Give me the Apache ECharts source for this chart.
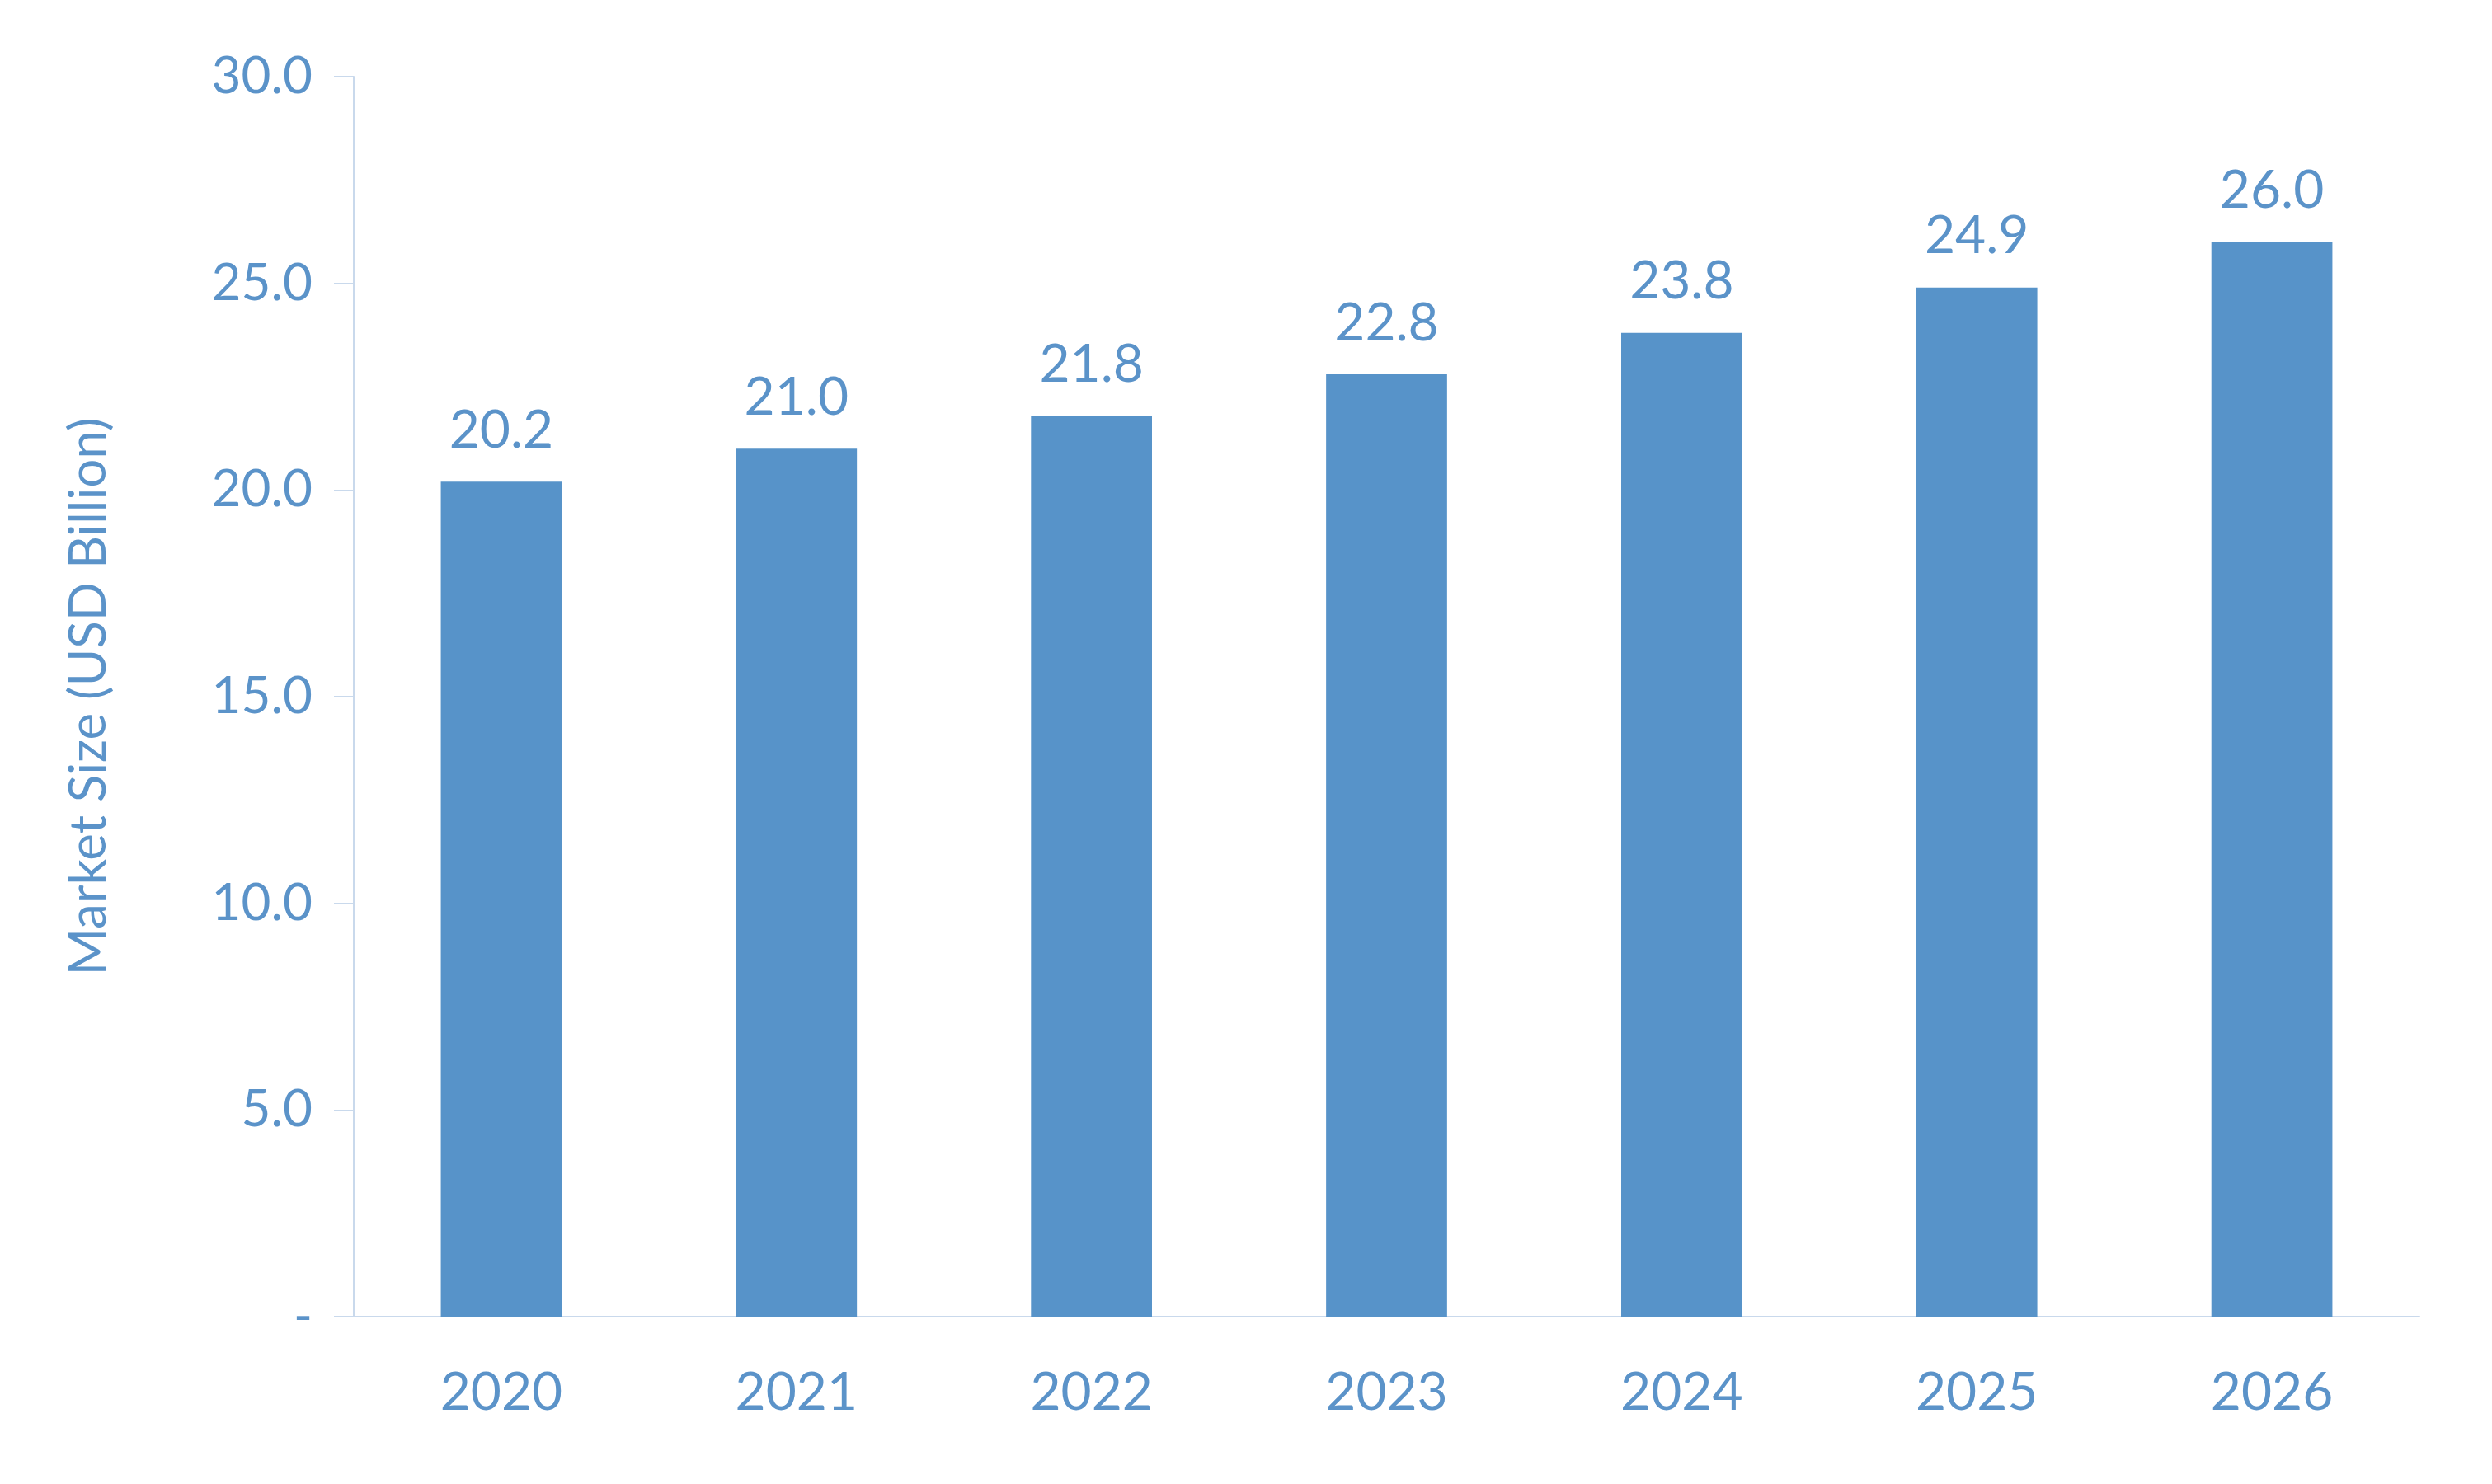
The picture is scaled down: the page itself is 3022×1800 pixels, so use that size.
<!DOCTYPE html>
<html><head><meta charset="utf-8">
<script src="https://cdn.jsdelivr.net/npm/echarts@6/dist/echarts.min.js"></script>
<style>html,body{margin:0;background:#fff}#c{width:3022px;height:1800px}</style>
</head><body><div id="c"></div>
<script>
const categories = ['2020','2021','2022','2023','2024','2025','2026'];
const values = [20.2, 21.0, 21.8, 22.8, 23.8, 24.9, 26.0];
const yTitle = 'Market Size (USD Billion)';
const txt = '#5B93C9';
const chart = echarts.init(document.getElementById('c'));
chart.setOption({
  animation:false,
  grid:{left:429,right:88,top:93,bottom:203},
  xAxis:{type:'category',data:categories,
    axisLine:{lineStyle:{color:'#C9D9EC',width:2}},axisTick:{show:false},
    axisLabel:{color:txt,fontSize:64,fontFamily:'Lato',margin:60}},
  yAxis:{type:'value',min:0,max:30,interval:5,name:yTitle,nameLocation:'middle',nameGap:290,
    nameTextStyle:{color:txt,fontSize:62,fontFamily:'Lato'},
    axisLine:{show:true,lineStyle:{color:'#C9D9EC',width:2}},
    axisTick:{show:true,length:24,inside:false,lineStyle:{color:'#C9D9EC',width:2}},
    splitLine:{show:false},
    axisLabel:{color:txt,fontSize:62,fontFamily:'Lato',margin:50,
      formatter:v=>v===0?'-':v.toFixed(1)}},
  series:[{type:'bar',data:values,barWidth:'41%',itemStyle:{color:'#5793C9'},
    label:{show:true,position:'top',distance:30,color:txt,fontSize:64,fontFamily:'Lato',
      formatter:p=>p.value.toFixed(1)}}]
});
</script></body></html>
